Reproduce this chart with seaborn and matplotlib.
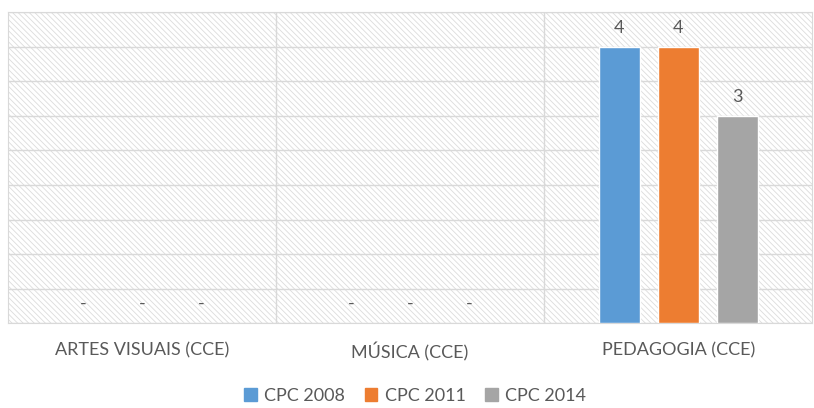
import pandas as pd
import matplotlib.pyplot as plt
import seaborn as sns

# dados do grafico
cursos = ['ARTES VISUAIS (CCE)', 'MÚSICA (CCE)', 'PEDAGOGIA (CCE)']
anos = ['CPC 2008', 'CPC 2011', 'CPC 2014']
cpc_2008 = [0, 0, 4]
cpc_2011 = [0, 0, 4]
cpc_2014 = [0, 0, 3]
cores = ['#5B9BD5', '#ED7D31', '#A5A5A5']

linhas = []
for ano, valores in zip(anos, [cpc_2008, cpc_2011, cpc_2014]):
    for curso, v in zip(cursos, valores):
        linhas.append({'curso': curso, 'ano': ano, 'valor': v})
df = pd.DataFrame(linhas)

sns.set_style('white')
plt.rcParams['font.family'] = ['Lato', 'DejaVu Sans']
plt.rcParams['hatch.linewidth'] = 0.6

fig = plt.figure(figsize=(8.14, 4.08), dpi=100)
ax = fig.add_axes([0.0098, 0.208, 0.988, 0.762])

# fundo hachurado (retangulo no sistema do eixo)
fundo = plt.Rectangle((0, 0), 1, 1, transform=ax.transAxes, facecolor='white',
                      edgecolor='#dcdcdc', linewidth=0, hatch='\\' * 6, zorder=0)
ax.add_patch(fundo)

sns.barplot(data=df, x='curso', y='valor', hue='ano', palette=cores,
            width=0.66, gap=0.305, saturation=1, ax=ax, zorder=3)

# rotulos dos valores (zero vira "-")
for cont in ax.containers:
    rotulos = ['-' if b.get_height() == 0 else f'{b.get_height():.0f}' for b in cont]
    ax.bar_label(cont, labels=rotulos, padding=8, fontsize=13, color='#595959')

ax.set_ylim(0, 4.5)
ax.set_xlim(-0.5, 2.5)
ax.set_yticks([i * 0.5 for i in range(10)])
ax.set_yticklabels([])
ax.grid(axis='y', color='#d9d9d9', linewidth=1, zorder=1)
ax.set_axisbelow(False)
for x in [0.5, 1.5]:
    ax.axvline(x, color='#d9d9d9', linewidth=1, zorder=1)
for s in ax.spines.values():
    s.set_color('#d9d9d9')
ax.tick_params(length=0)
ax.tick_params(axis='x', pad=14, labelsize=13, labelcolor='#595959')
ax.set_xlabel('')
ax.set_ylabel('')

ax.get_legend().remove()
handles = [plt.Rectangle((0, 0), 1, 1, color=c) for c in cores]
fig.legend(handles, anos, loc='center', bbox_to_anchor=(0.51, 0.03), ncol=3,
           frameon=False, fontsize=13, handlelength=0.7, handleheight=0.7,
           handletextpad=0.4, columnspacing=1.1, labelcolor='#595959')

plt.savefig('out.png', dpi=100)
